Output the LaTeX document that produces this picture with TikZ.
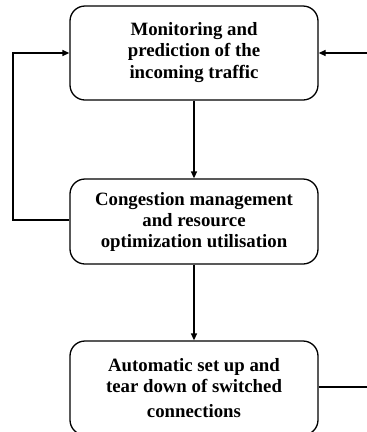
\documentclass[tikz,border=0pt]{standalone}
\usepackage{fontspec}
\setmainfont{Liberation Serif}
\usetikzlibrary{arrows.meta}
\begin{document}
\begin{tikzpicture}[x=1pt,y=-1pt,
  stage/.style={draw, line width=1.3pt, rounded corners=15pt,
    minimum width=248pt, inner sep=0pt, align=center,
    font=\fontsize{18.8}{21}\selectfont\bfseries},
  flow/.style={line width=1.3pt, -{Triangle[length=7pt,width=6pt]}},
  link/.style={line width=1.3pt}]
\useasboundingbox (0,0) rectangle (367,432);
\node[stage, minimum height=94pt] (mon) at (194,53)
  {Monitoring and\\prediction of the\\[1pt]incoming traffic};
\node[stage, minimum height=85pt] (cong) at (194,221.5)
  {Congestion management\\and resource\\optimization utilisation};
\node[stage, minimum height=94pt] (auto) at (194,388)
  {Automatic set up and\\tear down of switched\\[4pt]connections};
\coordinate (lb) at (13,220);
\coordinate (lt) at (13,53);
\coordinate (rb) at (368,387);
\coordinate (rt) at (368,53);
\draw[flow] (mon.south) -- (cong.north);
\draw[flow] (cong.south) -- (auto.north);
\draw[flow] (cong.west |- lb) -- (lb) -- (lt) -- (mon.west);
\draw[link] (auto.east |- rb) -- (rb);
\draw[flow] (rt) -- (mon.east);
\end{tikzpicture}
\end{document}
